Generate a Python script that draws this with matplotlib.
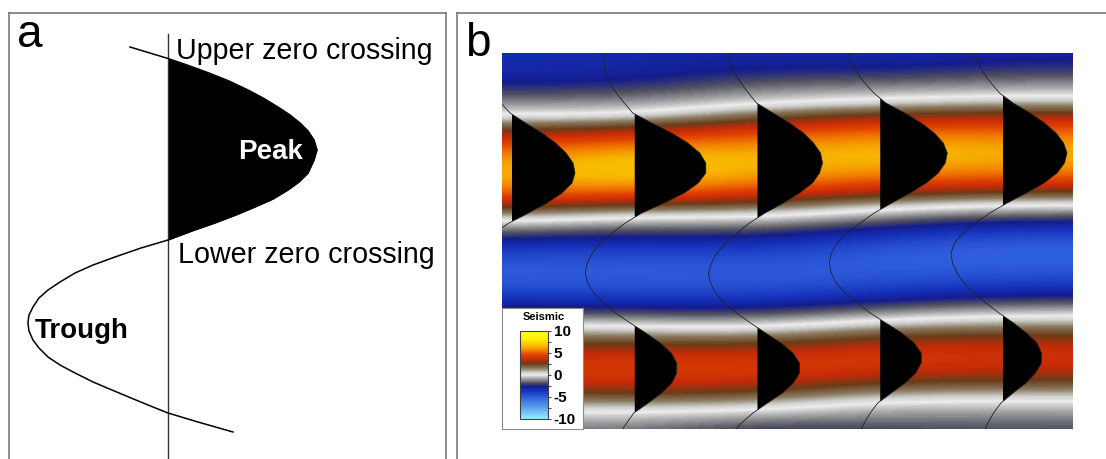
import numpy as np
import matplotlib
matplotlib.use("Agg")
import matplotlib.pyplot as plt
from matplotlib.colors import LinearSegmentedColormap, Normalize
from matplotlib.cm import ScalarMappable
from matplotlib.ticker import MultipleLocator

plt.rcParams['font.family'] = ['Liberation Sans', 'DejaVu Sans']
plt.rcParams['axes.unicode_minus'] = False

# ---------------- data: panel a (single wiggle trace) ----------------
a_time = [34, 45.5, 52, 60, 68, 77, 85, 94, 102, 110, 118, 127, 137, 147,
          160, 169, 177, 186, 194, 202, 210, 218, 227, 235, 244, 252, 260,
          269, 277, 285, 294, 302, 310, 318, 327, 335, 344, 352, 360, 369,
          377, 385, 394, 400, 409, 419]
a_amp = [-0.255, 0.0, 0.128, 0.275, 0.409, 0.537, 0.638, 0.738, 0.819,
         0.886, 0.94, 0.98, 1.0, 0.98, 0.94, 0.879, 0.805, 0.705, 0.584,
         0.456, 0.315, 0.161, 0.0, -0.181, -0.356, -0.503, -0.624, -0.725,
         -0.805, -0.866, -0.906, -0.933, -0.94, -0.933, -0.906, -0.866,
         -0.805, -0.725, -0.624, -0.503, -0.376, -0.248, -0.101, 0.0,
         0.201, 0.436]

# ---------------- data: panel b (seismic section) ----------------
b_time = list(range(0, 381, 10))
trace_1 = [-3.3, -3.3, -3.1, -2.6, -1.9, -1.1, -0.2, 1.35, 3.0, 4.35, 5.4, 6.1,
           6.3, 6.0, 5.0, 3.5, 1.65, -0.3, -1.75, -3.1, -4.05, -4.7, -4.95,
           -4.7, -4.05, -3.1, -1.75, -0.3, 1.15, 2.5, 3.45, 4.0, 4.0, 3.45,
           2.4, 1.05, -0.25, -1.0, -1.65]
trace_2 = [-3.05, -3.1, -2.9, -2.5, -1.85, -1.05, -0.2, 1.7, 3.7, 5.3, 6.5, 7.1,
           7.1, 6.35, 4.95, 2.95, 0.7, -0.95, -2.25, -3.4, -4.25, -4.75, -4.95,
           -4.7, -4.1, -3.1, -1.9, -0.45, 1.1, 2.55, 3.65, 4.2, 4.2, 3.7, 2.7,
           1.35, -0.1, -0.8, -1.5]
trace_3 = [-2.95, -2.75, -2.3, -1.65, -0.9, -0.1, 1.55, 3.2, 4.6, 5.6, 6.3, 6.5,
           6.2, 5.5, 4.2, 2.6, 0.75, -0.8, -2.05, -3.2, -4.05, -4.6, -4.9,
           -4.7, -4.2, -3.3, -2.1, -0.7, 0.8, 2.35, 3.55, 4.2, 4.2, 3.6, 2.5,
           1.0, -0.45, -1.6, -2.5]
trace_4 = [-3.2, -2.9, -2.3, -1.55, -0.65, 0.55, 2.45, 4.1, 5.4, 6.3, 6.7, 6.5,
           5.8, 4.6, 3.0, 1.15, -0.6, -2.0, -3.3, -4.3, -4.9, -5.1, -4.9, -4.4,
           -3.5, -2.3, -1.0, 0.55, 2.15, 3.4, 4.1, 4.1, 3.55, 2.5, 1.1, -0.25,
           -1.0, -1.6, -2.05]
trace_5 = [-2.85, -2.5, -1.95, -1.2, -0.35, 1.0, 2.7, 4.15, 5.3, 6.05, 6.4,
           6.15, 5.4, 4.1, 2.35, 0.4, -1.3, -2.8, -4.0, -4.85, -5.2, -5.05,
           -4.6, -3.9, -2.9, -1.7, -0.4, 1.05, 2.35, 3.4, 3.85, 3.85, 3.25,
           2.3, 1.0, -0.2, -0.95, -1.5, -1.95]
edge_left = trace_1
edge_right = trace_5
trace_columns = [edge_left, trace_1, trace_2, trace_3, trace_4, trace_5, edge_right]
drawn_traces = [1, 2, 3, 4, 5]
cbar_ticks = [10, 5, 0, -5, -10]
cbar_labels = ['10', '5', '0', '-5', '-10']

# ---------------- layout ----------------
W, H = 1106, 459
fig = plt.figure(figsize=(W / 100, H / 100), dpi=100)
fig.patch.set_facecolor('white')


def box(x0, y0, x1, y1):
    return [x0 / W, 1 - y1 / H, (x1 - x0) / W, (y1 - y0) / H]


frame_col = '#7a7a7a'

# panel a
ax_a = fig.add_axes(box(9, 13, 446, 459 + 3))
for s in ['left', 'top', 'right']:
    ax_a.spines[s].set_color(frame_col)
    ax_a.spines[s].set_linewidth(1.2)
ax_a.spines['bottom'].set_visible(False)
ax_a.set_xticks([]); ax_a.set_yticks([])
ax_a.set_xlim((9 - 168) / 149, (446 - 168) / 149)
ax_a.set_ylim(449, 0)
ta = np.array(a_time); aa = np.array(a_amp)
ax_a.plot([0, 0], [21, 449], color='#333333', lw=1.0)
ax_a.fill_betweenx(ta, 0, aa, where=(aa >= 0) & (ta < 300), interpolate=True,
                   color='black', lw=0)
ax_a.plot(aa, ta, color='black', lw=1.1)

fig.text(17 / W, 1 - 47 / H, 'a', fontsize=33, va='baseline', ha='left')
fig.text(176 / W, 1 - 59 / H, 'Upper zero crossing', fontsize=20.6,
         va='baseline', ha='left')
fig.text(178 / W, 1 - 263 / H, 'Lower zero crossing', fontsize=20.6,
         va='baseline', ha='left')
fig.text(238 / W, 1 - 159 / H, 'Peak', fontsize=20, fontweight='bold',
         color='white', va='baseline', ha='left')
fig.text(35 / W, 1 - 338 / H, 'Trough', fontsize=20, fontweight='bold',
         color='black', va='baseline', ha='left')

# panel b frame
ax_bf = fig.add_axes(box(457, 13, 1106 + 5, 459 + 3))
ax_bf.spines['left'].set_color(frame_col)
ax_bf.spines['top'].set_color(frame_col)
ax_bf.spines['left'].set_linewidth(1.2)
ax_bf.spines['top'].set_linewidth(1.2)
ax_bf.spines['right'].set_visible(False)
ax_bf.spines['bottom'].set_visible(False)
ax_bf.set_xticks([]); ax_bf.set_yticks([])
fig.text(465 / W, 1 - 56 / H, 'b', fontsize=33, va='baseline', ha='left')

# seismic colormap
stops = [(-10, '#9aeeff'), (-7.5, '#5aa4ee'), (-5, '#2e5cdc'), (-3.5, '#1430b8'),
         (-2.6, '#141c8c'), (-1.8, '#505060'), (-0.8, '#a8a8a8'), (0, '#ededed'),
         (0.6, '#d0d0d0'), (1.5, '#8a7a60'), (2.6, '#6a3c18'), (3.6, '#c42a08'),
         (4.6, '#e04200'), (5.6, '#f27c00'), (6.6, '#f8b800'), (8.2, '#fff000'),
         (10, '#ffff20')]
cmap = LinearSegmentedColormap.from_list(
    'seis', [((v + 10) / 20, c) for v, c in stops])
norm = Normalize(-10, 10)

ax_b = fig.add_axes(box(502, 53, 1073, 429))
grid = np.column_stack([np.array(c) for c in trace_columns])
dt = b_time[1] - b_time[0]
ax_b.imshow(grid, cmap=cmap, norm=norm, aspect='auto', interpolation='bicubic',
            interpolation_stage='data',
            extent=(-0.5, len(trace_columns) - 0.5, b_time[-1] + dt / 2, -dt / 2))
gain = 10 / 122.75
tb = np.array(b_time)
for k in drawn_traces:
    amp = np.array(trace_columns[k])
    xs = k + amp * gain
    ax_b.fill_betweenx(tb, k, xs, where=amp >= 0, interpolate=True,
                       color='black', lw=0, zorder=3)
    ax_b.plot(xs, tb, color='#222222', lw=0.6, zorder=4)
ax_b.set_xlim(1 - 10 / 122.75, 5 + 70 / 122.75)
ax_b.set_ylim(376, 0)
ax_b.axis('off')

# legend box with colorbar
ax_leg = fig.add_axes(box(502, 308, 583, 429))
ax_leg.set_facecolor('white')
ax_leg.set_xticks([]); ax_leg.set_yticks([])
for s in ax_leg.spines.values():
    s.set_color('#8a8a8a'); s.set_linewidth(0.8)
ax_leg.set_zorder(5)
fig.text(544 / W, 1 - 320 / H, 'Seismic', fontsize=8, fontweight='bold',
         ha='center', va='baseline', zorder=10)

cax = fig.add_axes(box(520, 331, 548, 419))
cax.set_zorder(6)
cb = fig.colorbar(ScalarMappable(norm=norm, cmap=cmap), cax=cax,
                  ticks=cbar_ticks)
cb.ax.set_yticklabels(cbar_labels)
cb.outline.set_edgecolor('#404040')
cb.outline.set_linewidth(0.8)
cb.ax.yaxis.set_minor_locator(MultipleLocator(2.5))
cb.ax.tick_params(which='major', length=2.5, width=0.7, pad=1.5,
                  labelsize=11, color='#444444')
cb.ax.tick_params(which='minor', length=2.5, width=0.7, color='#444444')
for lab in cb.ax.get_yticklabels():
    lab.set_fontweight('bold')

fig.savefig('out.png', dpi=100, facecolor='white')
